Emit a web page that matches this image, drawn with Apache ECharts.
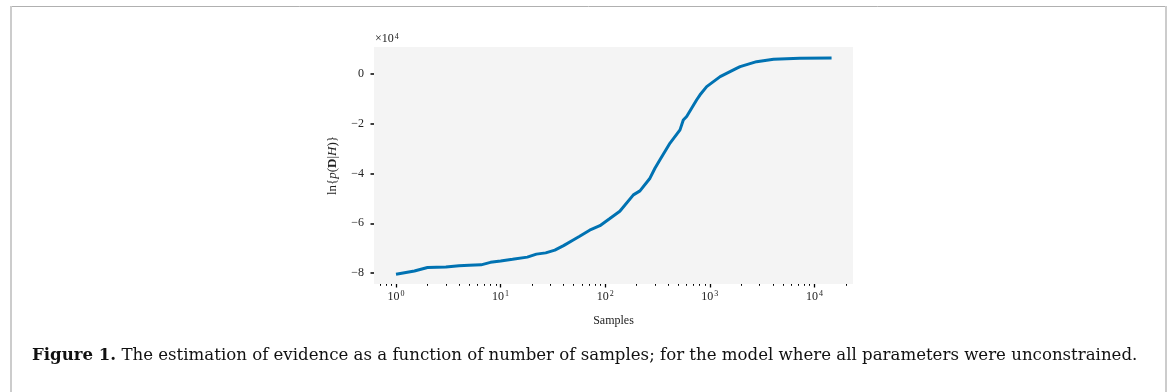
<!DOCTYPE html>
<html lang="en">
<head>
    <meta charset="UTF-8">
    <title>evidence</title>
    <script src="https://cdn.jsdelivr.net/npm/echarts@6/dist/echarts.min.js"></script>
    <style>
        html, body { margin: 0; padding: 0; background: #fff; }
        #chart { width: 1170px; height: 392px; }
    </style>
</head>
<body>
<div id="chart"></div>
<script>
    // samples (x) and ln evidence (units of 1e4)
    var samples = [1, 1.5, 2, 3, 4, 5, 6.5, 8, 10, 13, 18, 22, 27, 33, 40, 49, 57, 71, 89, 110, 138,
        186, 215, 268, 299, 334, 417, 519, 558, 601, 750, 807, 934, 1256, 1820, 1950, 2800, 4070, 7250, 14600];
    var lnEvidence = [-8.05, -7.92, -7.78, -7.76, -7.71, -7.69, -7.67, -7.57, -7.52, -7.45, -7.36, -7.24, -7.19, -7.08, -6.90, -6.68, -6.52, -6.28, -6.10, -5.82, -5.52,
        -4.86, -4.70, -4.19, -3.79, -3.45, -2.78, -2.25, -1.85, -1.71, -1.04, -0.84, -0.51, -0.11, 0.23, 0.29, 0.49, 0.59, 0.63, 0.64];
    var xMajorTicks = [1, 10, 100, 1000, 10000];
    var xMinorTicks = [];
    [0.1, 1, 10, 100, 1000, 10000].forEach(function (d) {
        for (var k = 2; k <= 9; k++) xMinorTicks.push(d * k);
    });
    var yTicks = [-80000, -60000, -40000, -20000, 0];

    var font = '"Liberation Serif", "DejaVu Serif", serif';
    var data = [];
    for (var i = 0; i < samples.length; i++) {
        data.push([samples[i], lnEvidence[i] * 1e4]);
    }

    var myChart = echarts.init(document.getElementById('chart'));
    myChart.setOption({
        animation: false,
        backgroundColor: '#fff',
        grid: {
            left: 374, right: 317, top: 47, bottom: 108,
            show: true, backgroundColor: '#f4f4f4', borderWidth: 0
        },
        xAxis: [{
            type: 'log', min: 0.616, max: 23400,
            position: 'bottom',
            axisLine: {show: false, onZero: false},
            splitLine: {show: false},
            axisTick: {show: true, customValues: xMajorTicks, length: 3.5, lineStyle: {color: '#000', width: 1.3}},
            axisLabel: {
                customValues: xMajorTicks, margin: 6,
                formatter: function (v) {
                    return '{b|10}{s|' + Math.round(Math.log10(v)) + '}';
                },
                rich: {
                    b: {fontFamily: font, fontSize: 12, color: '#222'},
                    s: {fontFamily: font, fontSize: 8, color: '#222', verticalAlign: 'top', padding: [0, 0, 5, 1]}
                }
            },
            name: 'Samples', nameLocation: 'middle', nameGap: 31,
            nameTextStyle: {fontFamily: font, fontSize: 12, color: '#222'}
        }, {
            type: 'log', min: 0.616, max: 23400,
            position: 'bottom',
            axisLine: {show: false, onZero: false},
            splitLine: {show: false},
            axisLabel: {show: false},
            axisTick: {show: true, customValues: xMinorTicks, length: 1.8, lineStyle: {color: '#000', width: 1}}
        }],
        yAxis: {
            type: 'value', min: -84400, max: 10800,
            axisLine: {show: false},
            splitLine: {show: false},
            axisTick: {show: true, customValues: yTicks, length: 3.5, lineStyle: {color: '#000', width: 1.5}},
            axisLabel: {
                customValues: yTicks, margin: 10,
                fontFamily: font, fontSize: 12, color: '#222',
                formatter: function (v) {
                    return v === 0 ? '0' : '\u2212' + Math.abs(v / 1e4);
                }
            },
            name: '{n|ln\u007b}{i|p}{n|(}{d|D}{n||}{i|H}{n|)\u007d}',
            nameLocation: 'middle', nameGap: 35, nameRotate: 90,
            nameTextStyle: {
                fontFamily: font, fontSize: 13, color: '#222',
                rich: {
                    n: {fontFamily: font, fontSize: 13, color: '#222'},
                    i: {fontFamily: font, fontSize: 13, color: '#222', fontStyle: 'italic'},
                    d: {fontFamily: font, fontSize: 13, color: '#222', fontWeight: 'bold'}
                }
            }
        },
        series: [{
            type: 'line',
            data: data,
            showSymbol: false,
            lineStyle: {color: '#0072b2', width: 3},
            itemStyle: {color: '#0072b2'}
        }],
        graphic: [
            {type: 'line', shape: {x1: 10, y1: 6.5, x2: 1167, y2: 6.5}, style: {stroke: '#b0b0b0', lineWidth: 1}},
            {type: 'line', shape: {x1: 11, y1: 6, x2: 11, y2: 392}, style: {stroke: '#cccccc', lineWidth: 2}},
            {type: 'line', shape: {x1: 1166, y1: 6, x2: 1166, y2: 392}, style: {stroke: '#cccccc', lineWidth: 2}},
            {
                type: 'text', left: 375, top: 33,
                style: {
                    text: '{n|\u00d710}{s|4}',
                    rich: {
                        n: {fontFamily: font, fontSize: 12, fill: '#222'},
                        s: {fontFamily: font, fontSize: 8, fill: '#222', verticalAlign: 'top', padding: [0, 0, 4, 1]}
                    }
                }
            },
            {
                type: 'text', left: 32, top: 347,
                style: {
                    text: '{b|Figure 1.} The estimation of evidence as a function of number of samples; for the model where all parameters were unconstrained.',
                    fontFamily: '"DejaVu Serif", serif', fontSize: 16.6, fill: '#111',
                    rich: {
                        b: {fontFamily: '"DejaVu Serif", serif', fontSize: 16.6, fontWeight: 'bold', fill: '#111'}
                    }
                }
            }
        ]
    });
</script>
</body>
</html>
